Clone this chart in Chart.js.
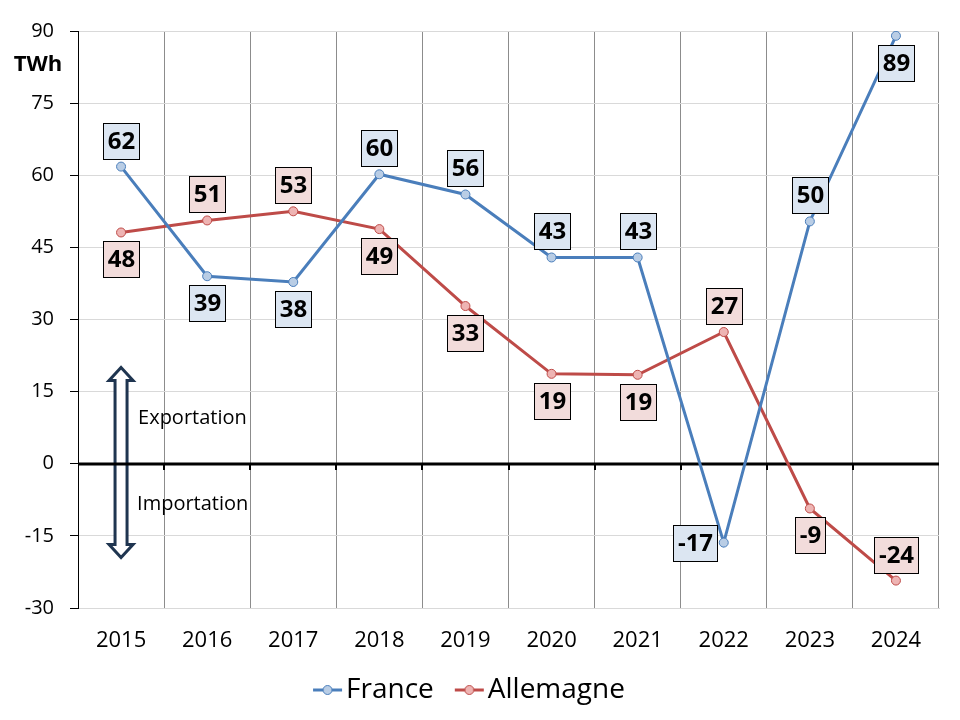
<!DOCTYPE html>
<html>
<head>
<meta charset="utf-8">
<script src="https://cdn.jsdelivr.net/npm/chart.js@4"></script>
<style>
  html,body{margin:0;padding:0;background:#fff;}
  #wrap{width:960px;height:720px;}
</style>
</head>
<body>
<div id="wrap"><canvas id="c" width="960" height="720"></canvas></div>
<script>
// Solde des échanges d'électricité (TWh)
const years = ['2015','2016','2017','2018','2019','2020','2021','2022','2023','2024'];
const france = [61.8, 39.0, 37.8, 60.2, 56.0, 42.9, 42.9, -16.4, 50.4, 89.0];
const franceText = ['62','39','38','60','56','43','43','-17','50','89'];
const francePos = ['above','below','below','above','above','above','above','left','above','below'];
const allemagne = [48.1, 50.6, 52.5, 48.8, 32.8, 18.7, 18.5, 27.4, -9.3, -24.3];
const allemagneText = ['48','51','53','49','33','19','19','27','-9','-24'];
const allemagnePos = ['below','above','above','below','below','below','below','above','below','above'];
const yTicks = [-30, -15, 0, 15, 30, 45, 60, 75, 90];

const FONT = '"Open Sans", "Liberation Sans", sans-serif';
Chart.defaults.font.family = FONT;
Chart.defaults.color = '#000';

function legendMark(line, fill){
  const cv = document.createElement('canvas');
  cv.width = 40; cv.height = 12;
  const g = cv.getContext('2d');
  g.strokeStyle = line; g.lineWidth = 3;
  g.beginPath(); g.moveTo(10, 6); g.lineTo(39, 6); g.stroke();
  g.fillStyle = fill; g.lineWidth = 1;
  g.beginPath(); g.arc(24.5, 6, 4.5, 0, Math.PI*2); g.fill(); g.stroke();
  return cv;
}

const boxLabels = {
  id: 'boxLabels',
  afterDatasetsDraw(chart){
    const ctx = chart.ctx;
    ctx.save();
    ctx.font = 'bold 24px ' + FONT;
    ctx.textAlign = 'center'; ctx.textBaseline = 'middle';
    chart.data.datasets.forEach((ds, di) => {
      chart.getDatasetMeta(di).data.forEach((pt, i) => {
        const txt = ds.boxText[i], pos = ds.boxPos[i];
        const w = Math.round(ctx.measureText(txt).width + 9), h = 36;
        let cx = pt.x, cy = pt.y;
        if (pos === 'above') cy -= 26;
        else if (pos === 'below') cy += 27;
        else cx -= 7 + w/2;
        const x0 = Math.round(cx - w/2), y0 = Math.round(cy - h/2);
        ctx.fillStyle = ds.boxFill; ctx.fillRect(x0, y0, w, h);
        ctx.strokeStyle = '#000'; ctx.lineWidth = 1; ctx.strokeRect(x0 + 0.5, y0 + 0.5, w, h);
        ctx.fillStyle = '#000'; ctx.fillText(txt, x0 + w/2 + 0.5, y0 + h/2 + 1);
      });
    });
    ctx.restore();
  }
};

const decor = {
  id: 'decor',
  beforeDatasetsDraw(chart){
    const ctx = chart.ctx, xs = chart.scales.x, ys = chart.scales.y, a = chart.chartArea;
    ctx.save();
    // double arrow export / import
    const cx = xs.getPixelForValue(0), ty = ys.getPixelForValue(20), by = ys.getPixelForValue(-19.5);
    const hw = 12, hh = 13, sw = 6;
    ctx.beginPath();
    ctx.moveTo(cx, ty); ctx.lineTo(cx+hw, ty+hh); ctx.lineTo(cx+sw, ty+hh); ctx.lineTo(cx+sw, by-hh);
    ctx.lineTo(cx+hw, by-hh); ctx.lineTo(cx, by); ctx.lineTo(cx-hw, by-hh); ctx.lineTo(cx-sw, by-hh);
    ctx.lineTo(cx-sw, ty+hh); ctx.lineTo(cx-hw, ty+hh); ctx.closePath();
    ctx.fillStyle = '#fff'; ctx.fill();
    ctx.strokeStyle = '#1f3550'; ctx.lineWidth = 3; ctx.lineJoin = 'miter'; ctx.stroke();
    ctx.font = '20px ' + FONT; ctx.fillStyle = '#000';
    ctx.textAlign = 'left'; ctx.textBaseline = 'middle';
    ctx.fillText('Exportation', cx + 17, ys.getPixelForValue(9.5));
    ctx.fillText('Importation', cx + 16, ys.getPixelForValue(-8.5));
    // zero line with ticks
    const y0 = Math.round(ys.getPixelForValue(0));
    ctx.strokeStyle = '#000'; ctx.lineWidth = 3;
    ctx.beginPath(); ctx.moveTo(a.left, y0); ctx.lineTo(a.right, y0); ctx.stroke();
    ctx.lineWidth = 2;
    for (let i = 1; i < years.length; i++){
      const x = Math.round(xs.getPixelForValue(i - 0.5));
      ctx.beginPath(); ctx.moveTo(x, y0); ctx.lineTo(x, y0 + 6); ctx.stroke();
    }
    // unit
    ctx.font = 'bold 22px ' + FONT; ctx.textAlign = 'center';
    ctx.fillText('TWh', a.left - 40, ys.getPixelForValue(83));
    ctx.restore();
  }
};

new Chart(document.getElementById('c'), {
  type: 'line',
  data: {
    labels: years,
    datasets: [
      { label: 'France', data: france, borderColor: '#4a7ebb', backgroundColor: '#b9cde5',
        pointBackgroundColor: '#b9cde5', pointBorderColor: '#4a7ebb', pointBorderWidth: 1,
        pointRadius: 4.5, borderWidth: 3, tension: 0,
        boxText: franceText, boxPos: francePos, boxFill: '#dce6f2',
        mark: legendMark('#4a7ebb', '#b9cde5') },
      { label: 'Allemagne', data: allemagne, borderColor: '#be4b48', backgroundColor: '#e6b9b8',
        pointBackgroundColor: '#eeb4b3', pointBorderColor: '#be4b48', pointBorderWidth: 1,
        pointRadius: 4.5, borderWidth: 3, tension: 0,
        boxText: allemagneText, boxPos: allemagnePos, boxFill: '#f2dcdb',
        mark: legendMark('#be4b48', '#eeb4b3') }
    ]
  },
  options: {
    responsive: false, animation: false,
    layout: { padding: { top: 31, right: 21, left: 0, bottom: 6 } },
    plugins: {
      tooltip: { enabled: false },
      legend: {
        position: 'bottom',
        labels: {
          usePointStyle: true, pointStyleWidth: 18, padding: 22,
          font: { size: 28 }, color: '#000',
          generateLabels(chart){
            return chart.data.datasets.map((ds, i) => ({
              text: ds.label, pointStyle: ds.mark, fillStyle: ds.borderColor,
              strokeStyle: ds.borderColor, lineWidth: 0, hidden: false, datasetIndex: i, fontColor: '#000'
            }));
          }
        }
      }
    },
    scales: {
      x: {
        offset: true,
        grid: { offset: true, color: '#8c8c8c', lineWidth: 1, drawTicks: false },
        border: { display: true, color: '#d9d9d9', width: 1 },
        ticks: { font: { size: 22 }, color: '#000', padding: 20 },
        afterFit(s){ s.height = 46; }
      },
      y: {
        min: -30, max: 90,
        afterBuildTicks(s){ s.ticks = yTicks.map(v => ({ value: v })); },
        grid: { color: c => c.tick && c.tick.value === 0 ? '#000' : '#d9d9d9', lineWidth: 1,
                tickColor: '#000', tickLength: 8 },
        border: { display: true, color: '#000', width: 1 },
        ticks: { font: { size: 20 }, color: '#000', padding: 16 },
        afterFit(s){ s.width = 78; }
      }
    }
  },
  plugins: [decor, boxLabels]
});
</script>
</body>
</html>
